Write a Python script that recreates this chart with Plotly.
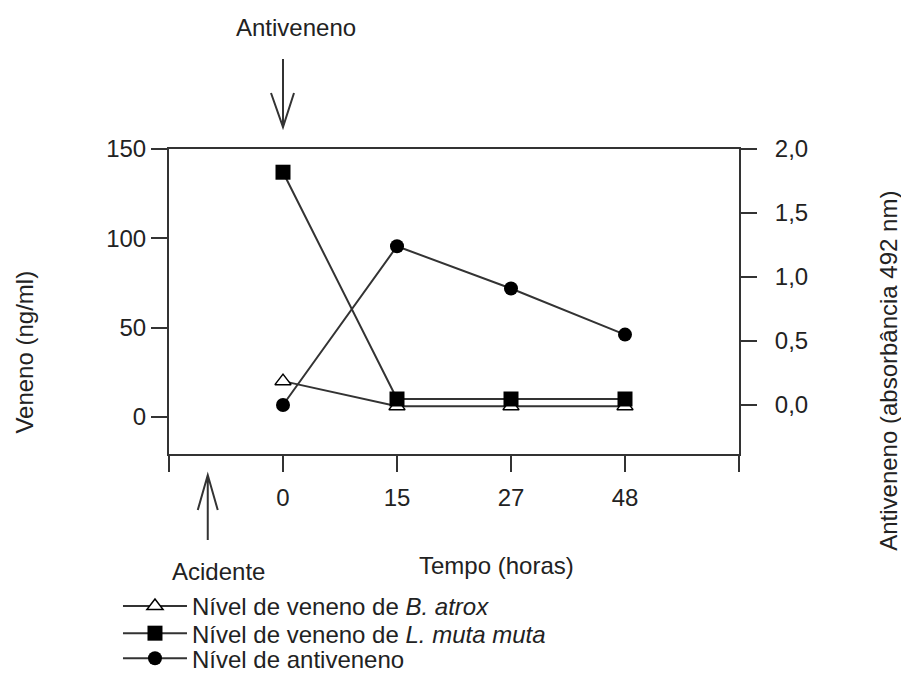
import plotly.graph_objects as go

# ---- data ----
hours = ["0", "15", "27", "48"]            # Tempo (horas)
b_atrox = [20, 6, 6, 6]                    # Veneno (ng/ml) - B. atrox
l_muta = [137, 10, 10, 10]                 # Veneno (ng/ml) - L. muta muta
antiveneno = [0.0, 1.24, 0.91, 0.55]       # Antiveneno (absorbância 492 nm)

left_ticks = [0, 50, 100, 150]
right_ticks = [0.0, 0.5, 1.0, 1.5, 2.0]

pos = list(range(len(hours)))
FONT = "Liberation Sans, Arial, sans-serif"
INK = "#222222"
LINE = "#333333"

fig = go.Figure()
fig.add_trace(go.Scatter(
    x=pos, y=b_atrox, mode="lines+markers",
    name="Nível de veneno de <i>B. atrox</i>",
    line=dict(color=LINE, width=2),
    marker=dict(symbol="triangle-up", size=14, color="white",
                line=dict(color="black", width=1.5)),
    legend="legend", showlegend=True))
fig.add_trace(go.Scatter(
    x=pos, y=l_muta, mode="lines+markers",
    name="Nível de veneno de <i>L. muta muta</i>",
    line=dict(color=LINE, width=2),
    marker=dict(symbol="square", size=15, color="black"),
    legend="legend2", showlegend=True))
fig.add_trace(go.Scatter(
    x=pos, y=antiveneno, mode="lines+markers", yaxis="y2",
    name="Nível de antiveneno",
    line=dict(color=LINE, width=2),
    marker=dict(symbol="circle", size=14, color="black"),
    legend="legend3", showlegend=True))

xt = [pos[0] - 1] + pos + [pos[-1] + 1]
xl = [""] + hours + [""]

axis_common = dict(showgrid=False, zeroline=False, showline=True,
                   linecolor=LINE, linewidth=2, ticks="outside",
                   ticklen=16, tickwidth=2, tickcolor=LINE,
                   tickfont=dict(family=FONT, size=24, color=INK))

fig.update_layout(
    width=901, height=679,
    margin=dict(l=169, r=162, t=149, b=225, autoexpand=False),
    plot_bgcolor="white", paper_bgcolor="white",
    separators=",.",
    showlegend=True,
    font=dict(family=FONT, size=24, color=INK),
    xaxis=dict(range=[pos[0] - 1, pos[-1] + 1], tickvals=xt, ticktext=xl,
               mirror=True, ticklabelstandoff=5, **axis_common),
    yaxis=dict(range=[-20.8, 150], tickvals=left_ticks, **axis_common),
    yaxis2=dict(range=[-0.383, 2.0], tickvals=right_ticks, tickformat=".1f",
                overlaying="y", side="right", ticklabelstandoff=13,
                **axis_common),
)

leg = dict(xanchor="left", yanchor="top", bgcolor="rgba(0,0,0,0)",
           font=dict(family=FONT, size=24, color=INK), itemwidth=64)
fig.update_layout(
    legend=dict(x=-0.0895, y=-0.426, **leg),
    legend2=dict(x=-0.0895, y=-0.515, **leg),
    legend3=dict(x=-0.0895, y=-0.597, **leg),
)

# text annotations
def note(text, x, y, angle=0):
    fig.add_annotation(text=text, x=x, y=y, xref="paper", yref="paper",
                       showarrow=False, textangle=angle,
                       font=dict(family=FONT, size=24, color=INK),
                       xanchor="center", yanchor="middle")

note("Antiveneno", 0.223, 1.397)
note("Acidente", 0.086, -0.384)
note("Tempo (horas)", 0.575, -0.364)
note("Veneno (ng/ml)", -0.253, 0.335, -90)
note("Antiveneno (absorbância 492 nm)", 1.261, 0.272, -90)

# arrows (pixel-sized paths anchored at their tips)
fig.add_shape(type="path", xref="x", yref="paper", xsizemode="pixel",
              ysizemode="pixel", xanchor=pos[0], yanchor=1.072,
              path="M0,0 L0,68 M-12,34 L0,0 L11,34",
              line=dict(color=LINE, width=2))
fig.add_shape(type="path", xref="x", yref="paper", xsizemode="pixel",
              ysizemode="pixel", xanchor=pos[0] - 0.66, yanchor=-0.069,
              path="M0,0 L0,-65 M-10,-35 L0,0 L10,-35",
              line=dict(color=LINE, width=2))

fig.write_html("out.html")
